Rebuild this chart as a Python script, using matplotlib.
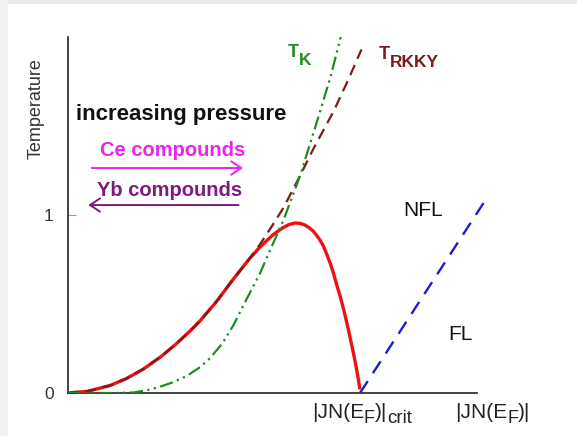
"""
plot.py - sketch of the heavy-fermion (Doniach) phase diagram.
"""

import matplotlib
matplotlib.use("Agg")
import matplotlib.pyplot as plt
from matplotlib.patches import Rectangle

plt.rcParams["font.family"] = ["Liberation Sans", "DejaVu Sans"]

# ── Data (x in units of |JN(E_F)|crit) ──
tc_x = [0, 0.07, 0.145, 0.2, 0.259, 0.32, 0.373, 0.42, 0.453, 0.51, 0.567,
        0.62, 0.658, 0.70, 0.72, 0.738, 0.758, 0.778, 0.795, 0.81, 0.825,
        0.84, 0.852, 0.863, 0.875, 0.885, 0.897, 0.909, 0.92, 0.932, 0.944,
        0.955, 0.965, 0.975, 0.983, 0.992, 1.0]
tc_y = [0, 0.01, 0.042, 0.08, 0.134, 0.205, 0.278, 0.35, 0.405, 0.515, 0.64,
        0.75, 0.82, 0.885, 0.91, 0.93, 0.947, 0.955, 0.953, 0.945, 0.93,
        0.91, 0.885, 0.86, 0.825, 0.785, 0.735, 0.675, 0.61, 0.545, 0.47,
        0.395, 0.32, 0.245, 0.18, 0.1, 0.02]

rkky_x = [0, 0.07, 0.145, 0.2, 0.259, 0.32, 0.373, 0.42, 0.453, 0.51, 0.567,
          0.62, 0.658, 0.70, 0.738, 0.795, 0.84, 0.909, 0.96, 1.005]
rkky_y = [0, 0.01, 0.042, 0.08, 0.134, 0.205, 0.278, 0.35, 0.405, 0.515, 0.64,
          0.75, 0.835, 0.94, 1.04, 1.22, 1.37, 1.58, 1.76, 1.93]

tk_x = [0, 0.10, 0.16, 0.225, 0.27, 0.316, 0.36, 0.407, 0.453, 0.487, 0.53,
        0.567, 0.61, 0.658, 0.70, 0.738, 0.795, 0.852, 0.90, 0.934]
tk_y = [0, 0, 0, 0.003, 0.015, 0.035, 0.06, 0.095, 0.145, 0.195, 0.28,
        0.38, 0.52, 0.672, 0.83, 0.97, 1.22, 1.52, 1.78, 2.0]

fl_x = [1.0, 1.433]
fl_y = [0.0, 1.094]

ytick_vals = [0, 1]
ytick_labels = ["0", "1"]


def draw_runs(ax, x, y, runs, color, weight="normal"):
    """Write text pieces one after another; each run is (text, size, drop)."""
    renderer = ax.figure.canvas.get_renderer()
    offset = 0.0
    for s, size, drop in runs:
        t = ax.annotate(s, xy=(x, y), xytext=(offset, -drop),
                        textcoords="offset points", fontsize=size,
                        fontweight=weight, color=color, va="baseline",
                        ha="left", annotation_clip=False)
        offset += t.get_window_extent(renderer).width * 72 / ax.figure.dpi


# ── Figure ────────────────────────────────────────────────────
fig = plt.figure(figsize=(5.77, 4.36), dpi=100)
fig.patches.append(Rectangle((0, 1 - 3 / 436), 1, 3 / 436, transform=fig.transFigure,
                             color="#ebebeb", zorder=0))
fig.patches.append(Rectangle((0, 0), 7 / 577, 1, transform=fig.transFigure,
                             color="#f3f3f3", zorder=0))

ax = fig.add_axes([0.117, 0.0986, 0.735, 0.8165])
ax.set_xlim(0, 1.45)
ax.set_ylim(0, 2.0)

ax.plot(tc_x, tc_y, color="#ee1111", lw=2.4, solid_capstyle="butt",
        solid_joinstyle="round", zorder=3)
ax.plot(rkky_x, rkky_y, color="#7d1a1a", lw=1.6, ls=(0, (5, 3)), zorder=4)
ax.plot(tk_x, tk_y, color="#1f8c1f", lw=1.6, ls=(0, (6, 2, 1, 2, 1, 2)), zorder=4)
ax.plot(fl_x, fl_y, color="#1c1cd6", lw=1.7, ls=(0, (6, 4)), zorder=3)

# ── Axes styling ──────────────────────────────────────────────
for side in ("top", "right"):
    ax.spines[side].set_visible(False)
for side in ("left", "bottom"):
    ax.spines[side].set_color("#222222")
    ax.spines[side].set_linewidth(1.2)
ax.spines["bottom"].set_bounds(0, 1.40)

ax.set_xticks([])
ax.set_yticks(ytick_vals)
ax.set_yticklabels(ytick_labels)
ax.tick_params(axis="y", direction="in", length=6, width=0.8, color="#999999",
               labelsize=12.5, labelcolor="#333333", pad=10)

ax.set_ylabel("Temperature", fontsize=13, color="#333333")
ax.yaxis.set_label_coords(-0.055, 0.80)

# ── Annotations ───────────────────────────────────────────────
ax.text(0.029, 1.562, "increasing pressure", fontsize=16, fontweight="bold",
        color="#111111", va="center", ha="left")
ax.text(0.111, 1.36, "Ce compounds", fontsize=14.5, fontweight="bold",
        color="#ee22ee", va="center", ha="left")
ax.annotate("", xy=(0.60, 1.264), xytext=(0.083, 1.264),
            arrowprops=dict(arrowstyle="->,head_length=0.6,head_width=0.4",
                            color="#ee22ee", lw=1.4, mutation_scale=12,
                            shrinkA=0, shrinkB=0))
ax.text(0.102, 1.14, "Yb compounds", fontsize=14.5, fontweight="bold",
        color="#7f1a80", va="center", ha="left")
ax.annotate("", xy=(0.071, 1.056), xytext=(0.585, 1.056),
            arrowprops=dict(arrowstyle="->,head_length=0.6,head_width=0.4",
                            color="#7f1a80", lw=1.4, mutation_scale=12,
                            shrinkA=0, shrinkB=0))

draw_runs(ax, 0.754, 1.888, [("T", 13, 0), ("K", 12.5, 5.5)], "#1f8c1f", "bold")
draw_runs(ax, 1.063, 1.876, [("T", 13, 0), ("RKKY", 12.5, 5.5)], "#7d1a1a", "bold")

ax.text(1.148, 1.028, "NFL", fontsize=15, color="#111111", va="center", ha="left")
ax.text(1.302, 0.326, "FL", fontsize=15, color="#111111", va="center", ha="left")

draw_runs(ax, 0.835, -0.142,
          [("|JN(E", 15, 0), ("F", 13, 3.5), (")|", 15, 0), ("crit", 13.5, 3.5)],
          "#222222")
draw_runs(ax, 1.325, -0.142,
          [("|JN(E", 15, 0), ("F", 13, 3.5), (")|", 15, 0)], "#222222")

fig.savefig("out.png", dpi=100)
